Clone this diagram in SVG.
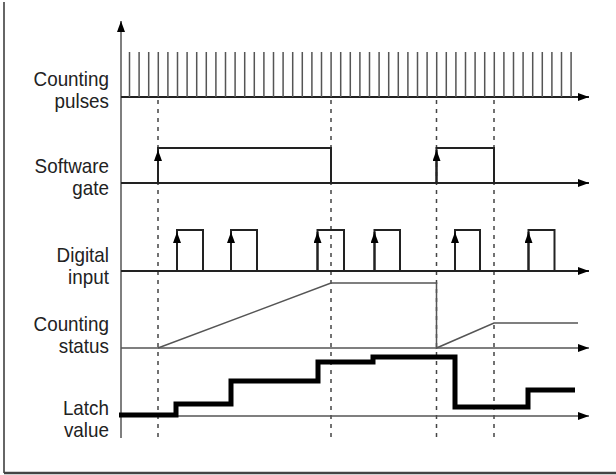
<svg xmlns="http://www.w3.org/2000/svg" width="616" height="475" viewBox="0 0 616 475">
<style>
.lbl{font-family:"Liberation Sans",Arial,sans-serif;font-size:20.5px;fill:#222;text-anchor:end}
.axis{stroke:#555;stroke-width:1.5;fill:none}
.base{stroke:#222;stroke-width:2;fill:none}
.wave{stroke:#222;stroke-width:2;fill:none}
.thin{stroke:#555;stroke-width:1.5;fill:none}
.dash{stroke:#444;stroke-width:1.5;stroke-dasharray:4 5;fill:none}
.pulse{stroke:#555;stroke-width:1.5}
.latch{stroke:#000;stroke-width:5;fill:none;stroke-linejoin:miter}
</style>
<defs>
<marker id="ah" markerUnits="userSpaceOnUse" markerWidth="12" markerHeight="8" refX="11" refY="4" orient="auto">
<path d="M0,0 L11,4 L0,8 z" fill="#000"/>
</marker>
</defs>
<g id="frame">
<line x1="4" y1="2" x2="4" y2="473" stroke="#333" stroke-width="1.5"/>
<line x1="4" y1="473" x2="616" y2="473" stroke="#444" stroke-width="2.5"/>
</g>
<g id="labels" transform="scale(0.92,1)">
<text class="lbl" x="118.5" y="86">Counting</text>
<text class="lbl" x="118.5" y="108">pulses</text>
<text class="lbl" x="118.5" y="173">Software</text>
<text class="lbl" x="118.5" y="195">gate</text>
<text class="lbl" x="118.5" y="262">Digital</text>
<text class="lbl" x="118.5" y="284">input</text>
<text class="lbl" x="118.5" y="331">Counting</text>
<text class="lbl" x="118.5" y="353">status</text>
<text class="lbl" x="118.5" y="415">Latch</text>
<text class="lbl" x="118.5" y="437">value</text>
</g>
<g id="guides">
<line class="dash" x1="158" y1="100" x2="158" y2="440"/>
<line class="dash" x1="331" y1="100" x2="331" y2="440"/>
<line class="dash" x1="436.5" y1="100" x2="436.5" y2="440"/>
<line class="dash" x1="494" y1="100" x2="494" y2="440"/>
</g>
<g id="connectors">
<line class="axis" x1="121" y1="438" x2="121" y2="21" marker-end="url(#ah)"/>
<line class="base" x1="121" y1="97" x2="589" y2="97" marker-end="url(#ah)"/>
<line class="base" x1="121" y1="183" x2="589" y2="183" marker-end="url(#ah)"/>
<line class="base" x1="121" y1="271" x2="589" y2="271" marker-end="url(#ah)"/>
<line class="thin" x1="121" y1="348" x2="589" y2="348" marker-end="url(#ah)"/>
<line class="thin" x1="121" y1="416" x2="589" y2="416" marker-end="url(#ah)"/>
</g>
<g id="counting-pulses">
<path class="pulse" d="M129.5,52V97M139.1,52V97M148.7,52V97M158.3,52V97M167.9,52V97M177.5,52V97M187.1,52V97M196.7,52V97M206.3,52V97M215.9,52V97M225.5,52V97M235.1,52V97M244.7,52V97M254.3,52V97M263.9,52V97M273.5,52V97M283.1,52V97M292.7,52V97M302.3,52V97M311.9,52V97M321.5,52V97M331.1,52V97M340.7,52V97M350.3,52V97M359.9,52V97M369.5,52V97M379.1,52V97M388.7,52V97M398.3,52V97M407.9,52V97M417.5,52V97M427.1,52V97M436.7,52V97M446.3,52V97M455.9,52V97M465.5,52V97M475.1,52V97M484.7,52V97M494.3,52V97M503.9,52V97M513.5,52V97M523.1,52V97M532.7,52V97M542.3,52V97M551.9,52V97M561.5,52V97M571.1,52V97"/>
</g>
<g id="software-gate">
<path class="wave" d="M158,183V148H331V183M436.5,183V148H494V183" stroke-width="1.8"/>
<line class="wave" x1="158" y1="183" x2="158" y2="150" marker-end="url(#ah)"/>
<line class="wave" x1="436.5" y1="183" x2="436.5" y2="150" marker-end="url(#ah)"/>
</g>
<g id="digital-input">
<path class="wave" d="M177,271V230H203V271M231,271V230H257V271M317.5,271V230H344V271M374.5,271V230H400V271M455,271V230H480V271M528.5,271V230H554.5V271"/>
<line class="wave" x1="177" y1="271" x2="177" y2="232" marker-end="url(#ah)"/>
<line class="wave" x1="231" y1="271" x2="231" y2="232" marker-end="url(#ah)"/>
<line class="wave" x1="317.5" y1="271" x2="317.5" y2="232" marker-end="url(#ah)"/>
<line class="wave" x1="374.5" y1="271" x2="374.5" y2="232" marker-end="url(#ah)"/>
<line class="wave" x1="455" y1="271" x2="455" y2="232" marker-end="url(#ah)"/>
<line class="wave" x1="528.5" y1="271" x2="528.5" y2="232" marker-end="url(#ah)"/>
</g>
<g id="counting-status">
<polyline class="thin" points="158,348 331,283 436.5,283 436.5,348 494,323 578,323"/>
</g>
<g id="latch-value">
<polyline class="latch" points="119,415 176,415 176,404 231,404 231,381 318,381 318,362 373,362 373,357 455,357 455,407 528,407 528,390 575,390"/>
</g>
</svg>
